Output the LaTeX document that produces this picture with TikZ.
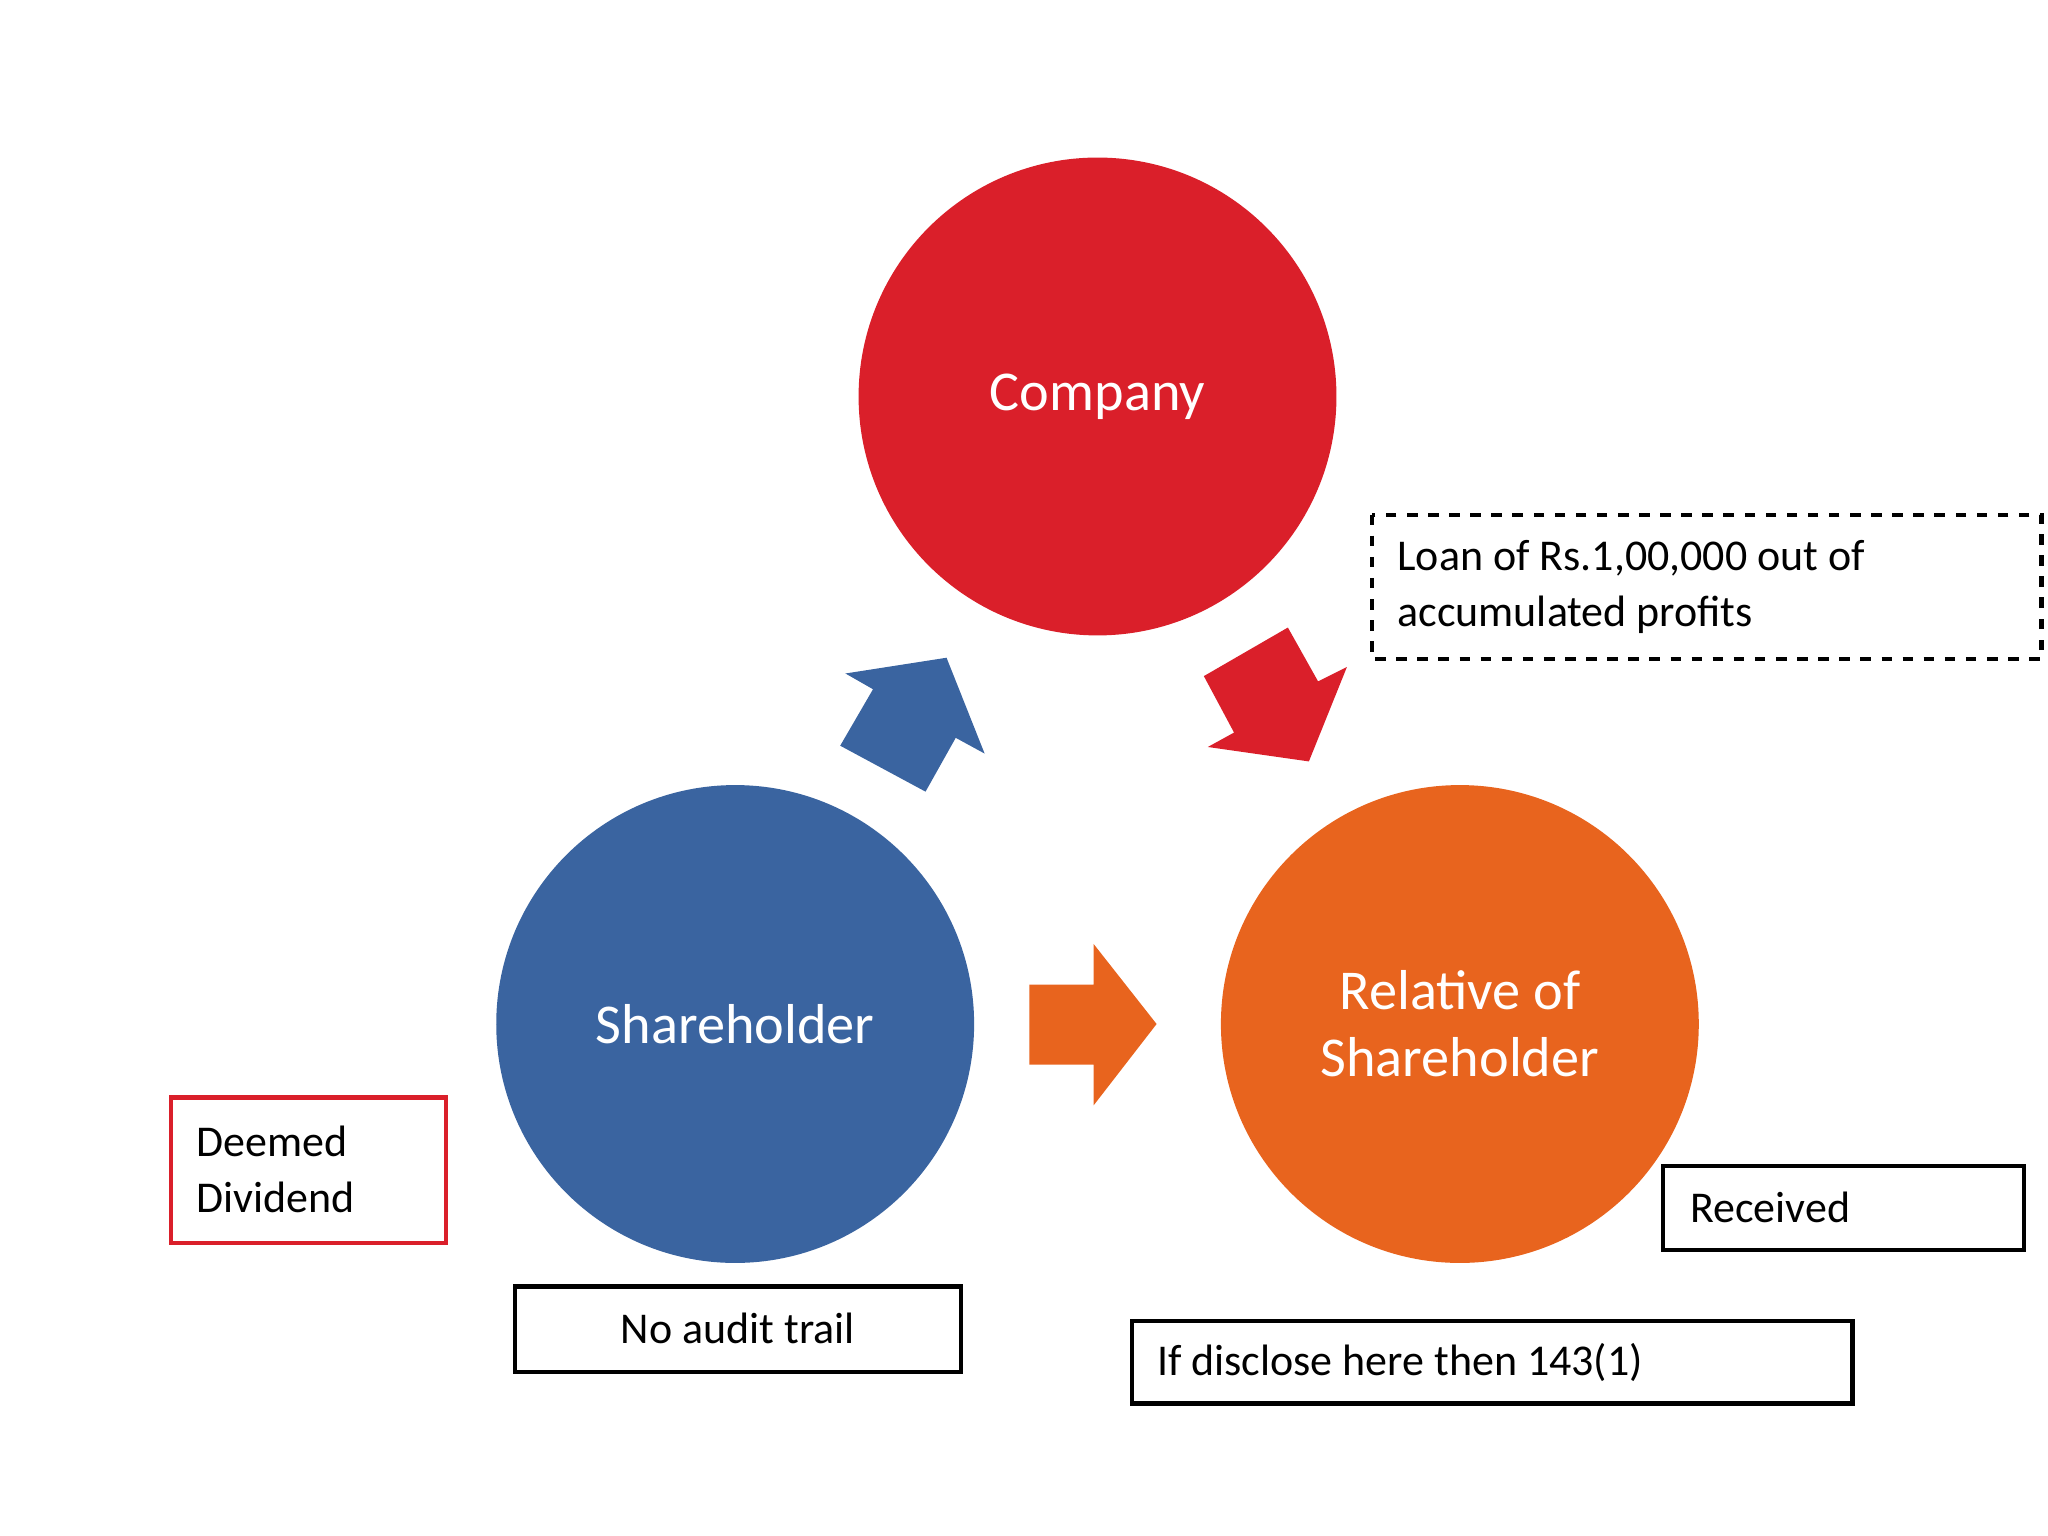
\documentclass[tikz,border=0pt]{standalone}
\usepackage{fontspec}
\setmainfont{Carlito}
\definecolor{cred}{HTML}{DA1F2A}
\definecolor{cblue}{HTML}{3A64A0}
\definecolor{corange}{HTML}{E8641E}
\begin{document}
\begin{tikzpicture}[x=0.013128cm,y=-0.013128cm,
  circ/.style={circle,minimum size=364\pgflinewidth,inner sep=0pt,text=white,font=\fontsize{16}{19}\selectfont,align=center},
  box/.style={draw,line width=1.2pt,font=\fontsize{12.5}{16}\selectfont,anchor=north west,inner sep=0pt}]
\useasboundingbox (0,0) rectangle (1560,1170);
\fill[cred] (836,302) circle (182);
\fill[cblue] (560,780) circle (182);
\fill[corange] (1112,780) circle (182);
\node[circ] (company) at (836,302) {Company};
\node[circ] (share) at (560,780) {Shareholder};
\node[circ] (rel) at (1112,780) {Relative of\\Shareholder};
\fill[cblue] (640,568)--(705,603)--(728,562)--(750,574)--(721,501)--(644,513)--(665,525)--cycle;
\fill[cred] (917,515)--(981,478)--(1004,519)--(1026,508)--(997,580)--(920,569)--(940,558)--cycle;
\fill[corange] (784,750)--(833,750)--(833,719)--(881,780)--(833,842)--(833,811)--(784,811)--cycle;
\draw[line width=1.2pt,dashed] (1045,392) rectangle (1555,502);
\node[anchor=west,align=left,font=\fontsize{12.5}{16}\selectfont] (loan) at (1055,447) {Loan of Rs.1,00,000 out of\\accumulated profits};
\draw[cred,line width=1.2pt] (130,836) rectangle (340,947);
\node[anchor=west,align=left,font=\fontsize{12.5}{16}\selectfont] (dd) at (140,891) {Deemed\\Dividend};
\draw[line width=1.2pt] (392,980) rectangle (732,1045);
\node[font=\fontsize{12.5}{16}\selectfont] (na) at (562,1012) {No audit trail};
\draw[line width=1.2pt] (1267,888) rectangle (1542,952);
\node[anchor=west,font=\fontsize{12.5}{16}\selectfont] (rec) at (1278,920) {Received};
\draw[line width=1.2pt] (862,1006) rectangle (1411,1069);
\node[anchor=west,font=\fontsize{12.5}{16}\selectfont] (dis) at (872,1038) {If disclose here then 143(1)};
\end{tikzpicture}
\end{document}
